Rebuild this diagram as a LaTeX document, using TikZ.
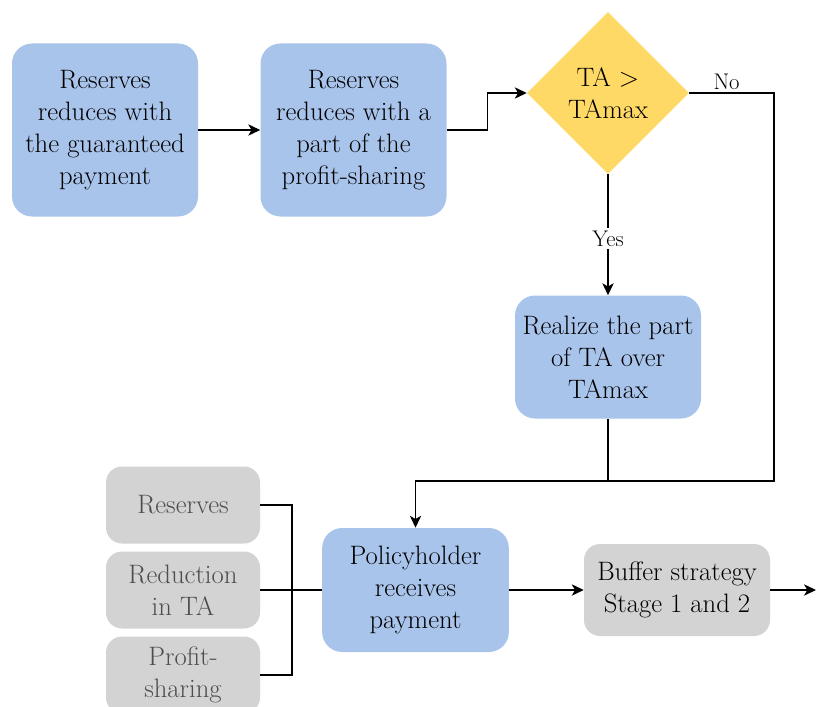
\documentclass[tikz,border=0pt]{standalone}
\usepackage{fontspec}
\usetikzlibrary{shapes.geometric,arrows.meta}

\definecolor{boxblue}{HTML}{A9C4EB}
\definecolor{boxgray}{HTML}{D3D3D3}
\definecolor{decyellow}{HTML}{FFD966}
\definecolor{softtext}{HTML}{4D4D4D}

\tikzset{
  bluebox/.style={rectangle,rounded corners=15pt,fill=boxblue,align=center,
    inner sep=0pt,font=\fontsize{20}{24}\selectfont},
  graybox/.style={rectangle,rounded corners=12pt,fill=boxgray,align=center,
    inner sep=0pt,font=\fontsize{20}{24}\selectfont},
  decision/.style={diamond,aspect=1,fill=decyellow,align=center,inner sep=0pt,
    minimum width=121.5pt,minimum height=121.5pt,font=\fontsize{20}{24}\selectfont},
  branch/.style={font=\fontsize{17}{20}\selectfont,inner sep=2pt},
  flow/.style={line width=0.9pt,-{Stealth[length=9pt,width=8.5pt,inset=2.5pt]}},
  link/.style={line width=0.9pt},
}

\begin{document}
\begin{tikzpicture}[x=0.75pt,y=0.75pt,yscale=-1,xscale=1]
\useasboundingbox (0,0) rectangle (816,706);
% top row
\node (guar) at (105,130) [bluebox,minimum width=139.5pt,minimum height=129.75pt]
  {Reserves\\reduces with\\the guaranteed\\payment};
\node (part) at (353.5,130) [bluebox,minimum width=139.5pt,minimum height=129.75pt]
  {Reserves\\reduces with a\\part of the\\profit-sharing};
\node (check) at (608,93) [decision] {TA >\\TAmax};
\node (realize) at (608,357) [bluebox,minimum width=139.5pt,minimum height=92.25pt]
  {Realize the part\\of TA over\\TAmax};
% bottom row
\node (receive) at (415.5,590) [bluebox,minimum width=140pt,minimum height=93pt]
  {Policyholder\\receives\\payment};
\node (buffer) at (677,590) [graybox,minimum width=139.5pt,minimum height=69pt]
  {Buffer strategy\\Stage 1 and 2};
\node (reserves) at (183,505) [graybox,text=softtext,minimum width=115.5pt,minimum height=57.75pt]
  {Reserves};
\node (reduction) at (183,590) [graybox,text=softtext,minimum width=115.5pt,minimum height=57.75pt]
  {Reduction\\in TA};
\node (profit) at (183,675) [graybox,text=softtext,minimum width=115.5pt,minimum height=57.75pt]
  {Profit-\\sharing};

\coordinate (noturn) at (774,481);
\coordinate (merge) at (292,590);
\coordinate (out) at (816,590);

\draw[flow] (guar) -- (part);
\draw[flow] (part.east) -- ++(41,0) |- (check.west);
\draw[flow] (check.east) -| node[branch,pos=0.22,above] {No} (noturn) -| (receive.north);
\draw[flow] (check.south) -- node[branch,fill=white,pos=0.53] {Yes} (realize.north);
\draw[link] (realize.south) -- (realize.south |- noturn);
\draw[link] (reserves.east) -| (merge);
\draw[link] (profit.east) -| (merge);
\draw[link] (reduction.east) -- (receive.west);
\draw[flow] (receive) -- (buffer);
\draw[flow] (buffer) -- (out);
\end{tikzpicture}
\end{document}
